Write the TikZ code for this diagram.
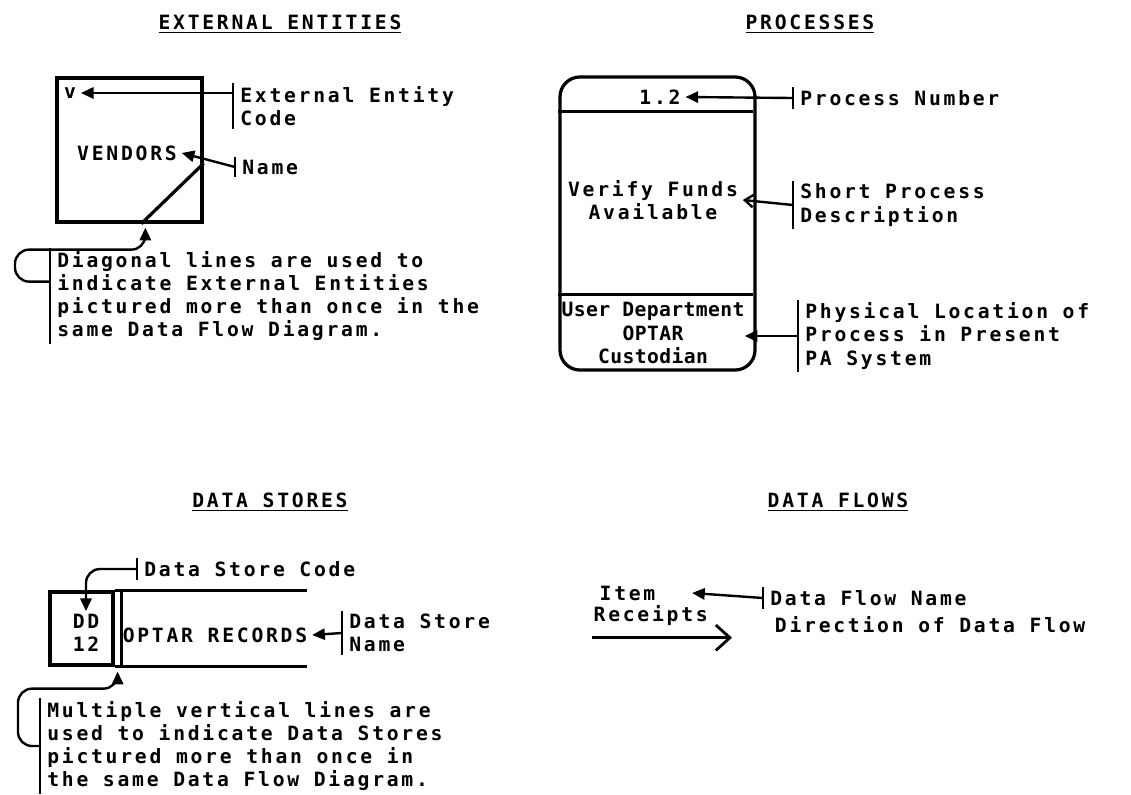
\documentclass[tikz,border=0pt]{standalone}
\usepackage{fontspec}
\setmainfont{DejaVu Sans Mono}[LetterSpace=14]
\usetikzlibrary{arrows.meta,positioning,calc}

\begin{document}
\begin{tikzpicture}[
    x=0.025cm, y=-0.025cm,
    every node/.style = {font=\fontsize{14}{16.5}\selectfont\bfseries},
    title/.style = {inner sep=1pt},
    box/.style   = {draw, line width=2.3pt, inner sep=0pt},
    edge/.style  = {line width=2.3pt},
    note/.style  = {anchor=west, align=left, inner xsep=5pt, inner ysep=2pt},
    bar/.style   = {line width=1.6pt},
    arr/.style   = {line width=1.7pt, -{Triangle[length=9pt,width=8pt]}},
    barb/.style  = {line width=1.7pt, -{Straight Barb[length=6pt,width=9pt]}},
    flow/.style  = {line width=2pt, -{Straight Barb[length=10pt,width=18pt]}}
  ]

  \useasboundingbox (0,0) rectangle (1131,795);

  % --- titles
  \node[title] (tent)   at (280,24)  {\underline{EXTERNAL ENTITIES}};
  \node[title] (tproc)  at (810,24)  {\underline{PROCESSES}};
  \node[title] (tstore) at (270,502) {\underline{DATA STORES}};
  \node[title] (tflow)  at (838,502) {\underline{DATA FLOWS}};

  % --- external entity
  \node[box, minimum width=3.625cm, minimum height=3.6cm] (ent) at (129.5,150) {};
  \node (vcode) at (70,93)   {v};
  \node (vend)  at (127,153) {VENDORS};
  \draw[edge] ($(ent.south west)+(86,0)$) -- ($(ent.north east)+(0,87)$);
  \coordinate (entin) at ($(ent.south west)+(90,4)$);

  \node[note] (eelbl)  at (233,106) {External Entity\\Code};
  \node[note] (nmlbl)  at (235,167) {Name};
  \node[note] (ennote) at (50,296)  {Diagonal lines are used to\\indicate External Entities\\pictured more than once in the\\same Data Flow Diagram.};

  \draw[bar] (eelbl.north west)  -- (eelbl.south west);
  \draw[bar] (nmlbl.north west)  -- (nmlbl.south west);
  \draw[bar] (ennote.north west) -- (ennote.south west);

  \draw[arr] (vcode.east -| eelbl.west) -- (vcode.east);
  \draw[arr] (nmlbl.west) -- (vend.east);
  \draw[arr, rounded corners=10pt] ($(ennote.north west)!0.35!(ennote.south west)$)
        -- ++(-35,0) |- ($(entin)+(0,22)$) -- (entin);

  % --- process
  \node[box, rounded corners=0.5cm, minimum width=4.875cm, minimum height=7.325cm] (proc) at (657.5,223.5) {};
  \draw[edge] (proc.north west) ++(0,36)  -- ++(195,0);
  \draw[edge] (proc.south west) ++(0,-77) -- ++(195,0);
  \node (pnum)   at (660,97)  {1.2};
  \node[align=center] (verify) at (653,200) {Verify Funds\\Available};
  \node[align=center, font=\fontsize{14}{17}\selectfont\bfseries\addfontfeature{LetterSpace=2}] (loc) at (653,333)
        {User Department\\OPTAR\\Custodian};

  \node[note] (pnlbl) at (793,98)  {Process Number};
  \node[note] (splbl) at (793,205) {Short Process\\Description};
  \node[note] (pllbl) at (798,336) {Physical Location of\\Process in Present\\PA System};

  \draw[bar] (pnlbl.north west) -- (pnlbl.south west);
  \draw[bar] (splbl.north west) -- (splbl.south west);
  \draw[bar] (pllbl.north west) -- (pllbl.south west);

  \draw[arr]  (pnlbl.west) -- (pnum.east);
  \draw[barb] (splbl.west) -- (verify.east);
  \draw[arr]  (pllbl.west) -- ($(pllbl.west -| proc.east)+(-12,0)$);

  % --- data store
  \node[box, minimum width=1.575cm, minimum height=1.825cm] (dd) at (81.5,628.5) {};
  \draw[edge] ($(dd.north east)+(7,0)$) -- ($(dd.south east)+(7,0)$);
  \draw[edge] (dd.north east) -- ++(192,0);
  \draw[edge] (dd.south east) -- ++(192,0);
  \node[align=center, inner sep=2pt] (ddcode) at (86,633) {DD\\12};
  \node (recs) at (215,635) {OPTAR RECORDS};
  \coordinate (ddin) at ($(dd.south east)+(3,5)$);

  \node[note] (dsclbl) at (137,569) {Data Store Code};
  \node[note] (dsnlbl) at (342,633) {Data Store\\Name};
  \node[note] (stnote) at (40,746)  {Multiple vertical lines are\\used to indicate Data Stores\\pictured more than once in\\the same Data Flow Diagram.};

  \draw[bar] (dsclbl.north west) -- (dsclbl.south west);
  \draw[bar] (dsnlbl.north west) -- (dsnlbl.south west);
  \draw[bar] (stnote.north west) -- (stnote.south west);

  \draw[arr, rounded corners=10pt] (dsclbl.west) -| (ddcode.north);
  \draw[arr] (dsnlbl.west) -- (recs.east);
  \draw[arr, rounded corners=10pt] (stnote.west) -- ++(-22,0) |- ($(ddin)+(0,17)$) -- (ddin);

  % --- data flow
  \node[anchor=west, inner sep=1pt] (item) at (598,593) {Item};
  \node[anchor=west, inner sep=1pt] (rcpt) at (592,616) {Receipts};
  \draw[flow] ([yshift=-0.25cm]rcpt.south west) -- ++(140,0);

  \node[note] (dfnlbl) at (763,598) {Data Flow Name};
  \node[anchor=west] (dir) at (770,625) {Direction of Data Flow};
  \draw[bar] (dfnlbl.north west) -- (dfnlbl.south west);
  \draw[arr] (dfnlbl.west) -- ($(item.east)+(35,0)$);

\end{tikzpicture}
\end{document}
